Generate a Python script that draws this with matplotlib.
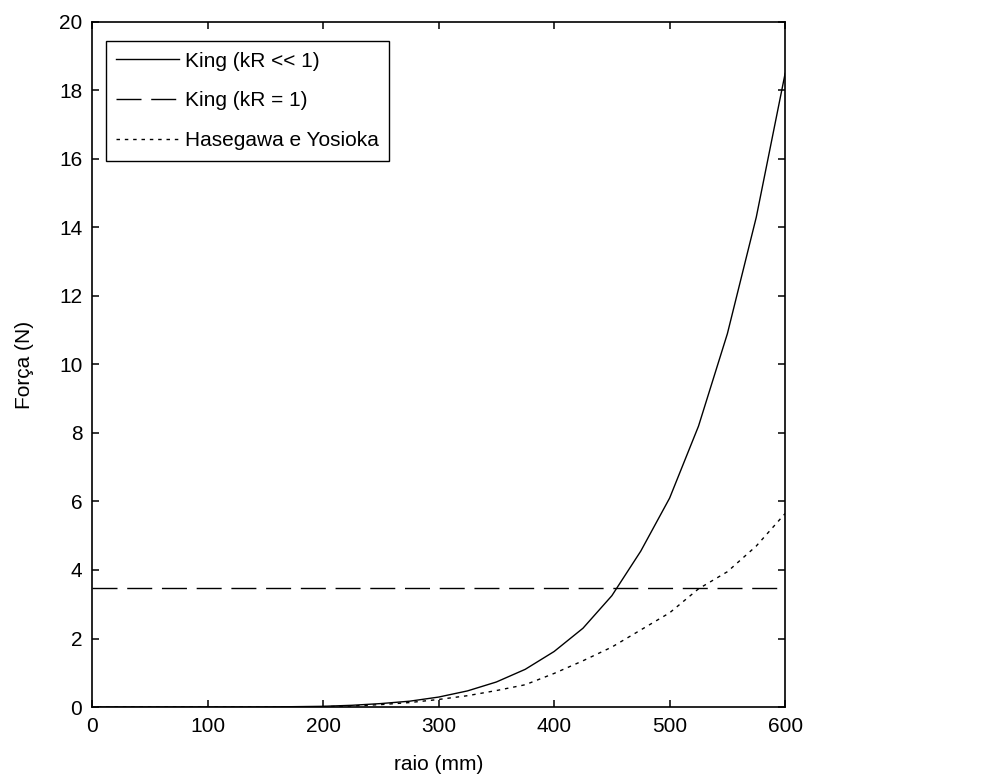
import matplotlib
matplotlib.use("Agg")
import matplotlib.pyplot as plt

# raio (mm) and force values
raio = [5, 25, 50, 75, 100, 125, 150, 175, 200, 225, 250, 275, 300, 325,
        350, 375, 400, 425, 450, 475, 500, 525, 550, 575, 600]
king_small = [0.0, 0.0, 0.0, 0.0, 0.0, 0.0, 0.0, 0.01, 0.02, 0.05, 0.10,
              0.17, 0.29, 0.47, 0.73, 1.10, 1.62, 2.30, 3.25, 4.55, 6.10,
              8.20, 10.9, 14.3, 18.5]
hasegawa = [0.0, 0.0, 0.0, 0.0, 0.0, 0.0, 0.0, 0.0, 0.01, 0.03, 0.07,
            0.13, 0.22, 0.33, 0.48, 0.65, 0.98, 1.35, 1.75, 2.25, 2.75,
            3.45, 3.95, 4.70, 5.65]
raio_kr1 = [0, 600]
king_kr1 = [3.48, 3.48]

plt.rcParams['font.family'] = ['Liberation Sans', 'DejaVu Sans']
plt.rcParams['font.size'] = 15

fig = plt.figure(figsize=(9.86, 7.82), dpi=100)
ax = fig.add_axes([0.0933, 0.0959, 0.703, 0.876])

ax.plot(raio, king_small, color='black', lw=1.0, label='King (kR << 1)')
ax.plot(raio_kr1, king_kr1, color='black', lw=1.0, dashes=(18, 7),
        label='King (kR = 1)')
ax.plot(raio, hasegawa, color='black', lw=1.0, dashes=(2.5, 3.5),
        label='Hasegawa e Yosioka')

ax.set_xlim(0, 600)
ax.set_ylim(0, 20)
ax.set_xticks(range(0, 601, 100))
ax.set_yticks(range(0, 21, 2))
ax.tick_params(direction='in', length=5, width=1.1, top=True, right=True, pad=7)
for s in ax.spines.values():
    s.set_linewidth(1.2)

ax.set_xlabel('raio (mm)', labelpad=14)
ax.set_ylabel('Força (N)', labelpad=18)

leg = ax.legend(loc='upper left', bbox_to_anchor=(0.02, 0.972),
                borderaxespad=0, fancybox=False, framealpha=1,
                edgecolor='black', handlelength=3.0, handletextpad=0.3,
                labelspacing=1.0, borderpad=0.5)
leg.get_frame().set_linewidth(1.0)

fig.savefig('out.png', dpi=100, facecolor='white')
